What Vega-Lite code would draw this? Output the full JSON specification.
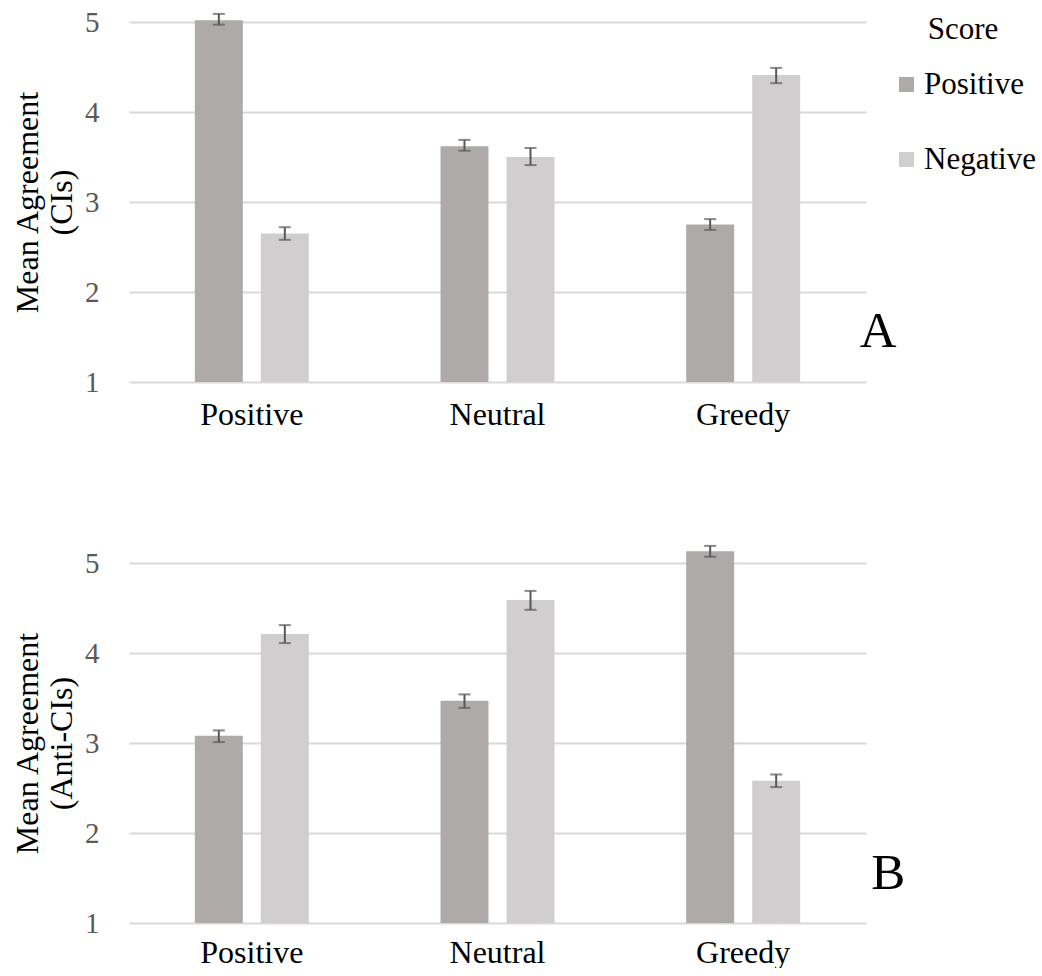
{
  "$schema": "https://vega.github.io/schema/vega-lite/v6.json",
  "padding": {"left": 11, "top": 8, "right": 0, "bottom": 0},
  "background": "white",
  "datasets": {
    "a": [
      {"cond": "Positive", "score": "Positive", "mean": 5.02, "lo": 4.97, "hi": 5.09},
      {"cond": "Positive", "score": "Negative", "mean": 2.65, "lo": 2.58, "hi": 2.72},
      {"cond": "Neutral", "score": "Positive", "mean": 3.62, "lo": 3.57, "hi": 3.69},
      {"cond": "Neutral", "score": "Negative", "mean": 3.50, "lo": 3.41, "hi": 3.60},
      {"cond": "Greedy", "score": "Positive", "mean": 2.75, "lo": 2.69, "hi": 2.81},
      {"cond": "Greedy", "score": "Negative", "mean": 4.41, "lo": 4.32, "hi": 4.49}
    ],
    "b": [
      {"cond": "Positive", "score": "Positive", "mean": 3.08, "lo": 3.01, "hi": 3.14},
      {"cond": "Positive", "score": "Negative", "mean": 4.21, "lo": 4.11, "hi": 4.31},
      {"cond": "Neutral", "score": "Positive", "mean": 3.47, "lo": 3.39, "hi": 3.54},
      {"cond": "Neutral", "score": "Negative", "mean": 4.59, "lo": 4.48, "hi": 4.69},
      {"cond": "Greedy", "score": "Positive", "mean": 5.13, "lo": 5.07, "hi": 5.19},
      {"cond": "Greedy", "score": "Negative", "mean": 2.58, "lo": 2.51, "hi": 2.65}
    ],
    "la": [{"lab": "A"}],
    "lb": [{"lab": "B"}]
  },
  "config": {
    "font": "Liberation Serif",
    "view": {"stroke": null},
    "axis": {"labelFont": "Liberation Serif", "titleFont": "Liberation Serif"},
    "legend": {
      "padding": 0,
      "symbolType": "square",
      "symbolSize": 225,
      "symbolStrokeWidth": 0,
      "labelFontSize": 31,
      "labelColor": "#000000",
      "labelOffset": 2,
      "titleFontSize": 31,
      "titleFontWeight": "normal",
      "titleColor": "#000000",
      "titleAnchor": "middle",
      "titleAlign": "center",
      "titlePadding": 23,
      "rowPadding": 43
    }
  },
  "bounds": "flush",
  "spacing": 181,
  "vconcat": [
    {
      "width": 737,
      "height": 360,
      "layer": [
        {
          "data": {"name": "a"},
          "mark": {"type": "bar"},
          "encoding": {
            "x": {"field": "cond", "type": "nominal", "sort": ["Positive", "Neutral", "Greedy"],
                  "scale": {"paddingInner": 0.536, "paddingOuter": 0.268},
                  "axis": {"title": null, "labelAngle": 0, "labelFontSize": 32, "labelColor": "#000000", "domain": false, "ticks": false, "labelPadding": 17}},
            "xOffset": {"field": "score", "sort": ["Positive", "Negative"], "scale": {"paddingInner": 0.273, "paddingOuter": 0}},
            "y": {"field": "mean", "type": "quantitative", "scale": {"domain": [1, 5], "nice": false, "zero": false},
                  "axis": {"values": [1, 2, 3, 4, 5], "format": "d", "title": ["Mean Agreement", "\u00a0\u00a0\u00a0\u00a0\u00a0\u00a0\u00a0(CIs)"], "titleFontSize": 32, "titleFontWeight": "normal", "titleColor": "#000000", "titlePadding": 6,
                           "labelFontSize": 29, "labelColor": "#595959", "labelPadding": 30, "domain": false, "ticks": false,
                           "grid": true, "gridColor": "#d9d9d9", "gridWidth": 2}},
            "y2": {"datum": 1},
            "color": {"field": "score", "type": "nominal", "sort": ["Positive", "Negative"],
                      "scale": {"domain": ["Positive", "Negative"], "range": ["#aeaaaa", "#d0cece"]},
                      "legend": {"title": "Score", "orient": "none", "legendX": 762, "legendY": -7}}
          }
        },
        {
          "data": {"name": "a"},
          "mark": {"type": "rule", "color": "#595959", "strokeWidth": 2},
          "encoding": {
            "x": {"field": "cond", "type": "nominal", "sort": ["Positive", "Neutral", "Greedy"]},
            "xOffset": {"field": "score", "sort": ["Positive", "Negative"]},
            "y": {"field": "lo", "type": "quantitative"},
            "y2": {"field": "hi"}
          }
        },
        {
          "data": {"name": "a"},
          "mark": {"type": "tick", "color": "#595959", "size": 12, "thickness": 2, "orient": "horizontal"},
          "encoding": {
            "x": {"field": "cond", "type": "nominal", "sort": ["Positive", "Neutral", "Greedy"]},
            "xOffset": {"field": "score", "sort": ["Positive", "Negative"]},
            "y": {"field": "lo", "type": "quantitative"}
          }
        },
        {
          "data": {"name": "a"},
          "mark": {"type": "tick", "color": "#595959", "size": 12, "thickness": 2, "orient": "horizontal"},
          "encoding": {
            "x": {"field": "cond", "type": "nominal", "sort": ["Positive", "Neutral", "Greedy"]},
            "xOffset": {"field": "score", "sort": ["Positive", "Negative"]},
            "y": {"field": "hi", "type": "quantitative"}
          }
        },
        {
          "data": {"name": "la"},
          "mark": {"type": "text", "fontSize": 51, "color": "#000000", "align": "center", "baseline": "alphabetic", "dx": 135},
          "encoding": {
            "x": {"datum": "Greedy"},
            "y": {"datum": 1.39},
            "text": {"field": "lab"}
          }
        }
      ]
    },
    {
      "width": 737,
      "height": 360,
      "layer": [
        {
          "data": {"name": "b"},
          "mark": {"type": "bar"},
          "encoding": {
            "x": {"field": "cond", "type": "nominal", "sort": ["Positive", "Neutral", "Greedy"],
                  "scale": {"paddingInner": 0.536, "paddingOuter": 0.268},
                  "axis": {"title": null, "labelAngle": 0, "labelFontSize": 32, "labelColor": "#000000", "domain": false, "ticks": false, "labelPadding": 14}},
            "xOffset": {"field": "score", "sort": ["Positive", "Negative"], "scale": {"paddingInner": 0.273, "paddingOuter": 0}},
            "y": {"field": "mean", "type": "quantitative", "scale": {"domain": [1, 5], "nice": false, "zero": false},
                  "axis": {"values": [1, 2, 3, 4, 5], "format": "d", "title": ["Mean Agreement", "\u00a0\u00a0\u00a0\u00a0\u00a0\u00a0\u00a0(Anti-CIs)"], "titleFontSize": 32, "titleFontWeight": "normal", "titleColor": "#000000", "titlePadding": 6,
                           "labelFontSize": 29, "labelColor": "#595959", "labelPadding": 30, "domain": false, "ticks": false,
                           "grid": true, "gridColor": "#d9d9d9", "gridWidth": 2}},
            "y2": {"datum": 1},
            "color": {"field": "score", "type": "nominal", "sort": ["Positive", "Negative"],
                      "scale": {"domain": ["Positive", "Negative"], "range": ["#aeaaaa", "#d0cece"]},
                      "legend": {"title": "Score", "orient": "none", "legendX": 762, "legendY": -7}}
          }
        },
        {
          "data": {"name": "b"},
          "mark": {"type": "rule", "color": "#595959", "strokeWidth": 2},
          "encoding": {
            "x": {"field": "cond", "type": "nominal", "sort": ["Positive", "Neutral", "Greedy"]},
            "xOffset": {"field": "score", "sort": ["Positive", "Negative"]},
            "y": {"field": "lo", "type": "quantitative"},
            "y2": {"field": "hi"}
          }
        },
        {
          "data": {"name": "b"},
          "mark": {"type": "tick", "color": "#595959", "size": 12, "thickness": 2, "orient": "horizontal"},
          "encoding": {
            "x": {"field": "cond", "type": "nominal", "sort": ["Positive", "Neutral", "Greedy"]},
            "xOffset": {"field": "score", "sort": ["Positive", "Negative"]},
            "y": {"field": "lo", "type": "quantitative"}
          }
        },
        {
          "data": {"name": "b"},
          "mark": {"type": "tick", "color": "#595959", "size": 12, "thickness": 2, "orient": "horizontal"},
          "encoding": {
            "x": {"field": "cond", "type": "nominal", "sort": ["Positive", "Neutral", "Greedy"]},
            "xOffset": {"field": "score", "sort": ["Positive", "Negative"]},
            "y": {"field": "hi", "type": "quantitative"}
          }
        },
        {
          "data": {"name": "lb"},
          "mark": {"type": "text", "fontSize": 51, "color": "#000000", "align": "center", "baseline": "alphabetic", "dx": 145},
          "encoding": {
            "x": {"datum": "Greedy"},
            "y": {"datum": 1.38},
            "text": {"field": "lab"}
          }
        }
      ]
    }
  ]
}
